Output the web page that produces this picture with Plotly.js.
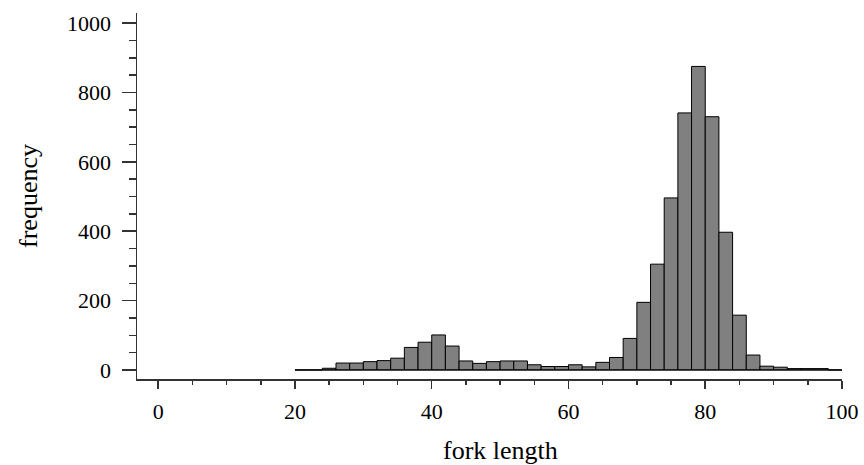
<!DOCTYPE html>
<html>
<head>
<meta charset="utf-8">
<script src="https://cdn.plot.ly/plotly-3.0.1.min.js"></script>
<style>html,body{margin:0;padding:0;background:#fff;}#chart{width:864px;height:465px;}</style>
</head>
<body>
<div id="chart"></div>
<script>
// Histogram of fork length, bins of width 2 starting at 20
const binStart = 20;
const binSize = 2;
const counts = [0,0,5,20,20,24,27,34,65,80,
                101,69,26,19,24,26,26,15,10,10,
                15,9,22,36,91,195,305,496,741,875,
                730,397,158,43,11,8,4,4,4,0];
const xTickVals = [0,20,40,60,80,100];
const yTickVals = [0,200,400,600,800,1000];
const xTitle = 'fork length';
const yTitle = 'frequency';

const centers = counts.map((c,i) => binStart + i*binSize + binSize/2);
const binEnd = binStart + counts.length*binSize;

const family = '"Liberation Serif", "Times New Roman", serif';
const tickFont = {family: family, size: 22, color: '#000'};
const titleFont = {family: family, size: 26, color: '#000'};

const traces = [
  {type:'scatter', mode:'lines', x:[binStart, binEnd], y:[0,0],
   line:{color:'#000', width:1}, hoverinfo:'skip', showlegend:false},
  {type:'bar', x:centers, y:counts, width:binSize,
   marker:{color:'#808080', line:{color:'#000', width:1}}, showlegend:false}
];

const layout = {
  width:864, height:465,
  margin:{l:137, r:22, t:13, b:86},
  paper_bgcolor:'#fff', plot_bgcolor:'#fff',
  font: tickFont,
  bargap:0,
  showlegend:false,
  xaxis:{
    range:[-3.1, 100], tickvals:xTickVals, ticktext:xTickVals.map(String),
    showline:true, linecolor:'#333', linewidth:1.5, mirror:false,
    ticks:'outside', ticklen:8, tickcolor:'#333', tickwidth:1.5,
    minor:{dtick:5, tick0:0, ticks:'outside', ticklen:4, tickcolor:'#333', tickwidth:1.5, showgrid:false},
    showgrid:false, zeroline:false,
    tickfont:tickFont, ticklabelstandoff:4
  },
  yaxis:{
    range:[-26, 1029], tickvals:yTickVals, ticktext:yTickVals.map(String),
    showline:true, linecolor:'#333', linewidth:1.5,
    ticks:'outside', ticklen:14, tickcolor:'#333', tickwidth:1.5,
    minor:{dtick:50, tick0:0, ticks:'outside', ticklen:7, tickcolor:'#333', tickwidth:1.5, showgrid:false},
    showgrid:false, zeroline:false,
    tickfont:tickFont, ticklabelstandoff:6,
    title:{text:yTitle, font:titleFont, standoff:22}
  },
  annotations:[
    {text:xTitle, xref:'x', x:(xTickVals[0]+xTickVals[xTickVals.length-1])/2,
     yref:'paper', y:-0.15, xanchor:'center', yanchor:'top',
     showarrow:false, font:titleFont}
  ]
};

Plotly.newPlot('chart', traces, layout, {displayModeBar:false, staticPlot:true});
</script>
</body>
</html>
